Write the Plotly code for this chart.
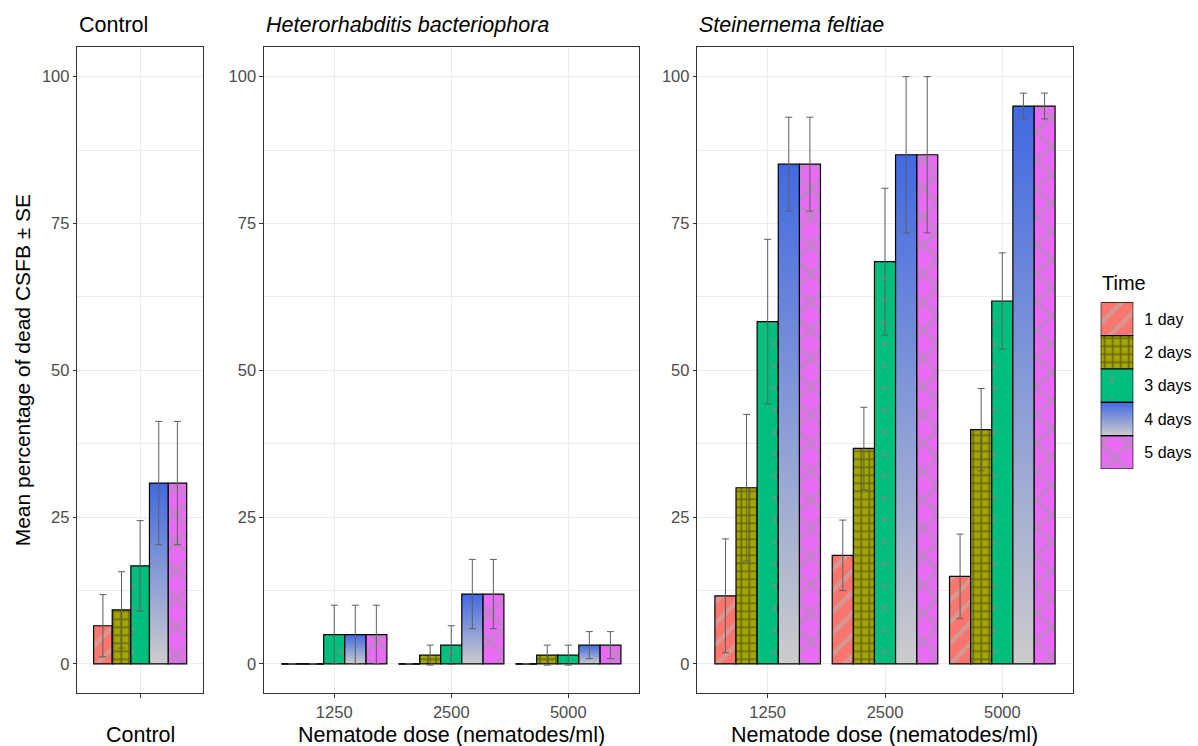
import plotly.graph_objects as go

W, H = 1198, 746

# ---------------- data ----------------
times = ["1 day", "2 days", "3 days", "4 days", "5 days"]
fill_colors = ["#F8766D", "#A3A500", "#00BF7D", "#4169E1", "#E76BF3"]
doses = ["1250", "2500", "5000"]
control_cats = [""]

control_mean = [[6.5], [9.2], [16.7], [30.8], [30.8]]
control_se = [[5.3], [6.5], [7.7], [10.5], [10.5]]

hb_mean = [[0, 0, 0], [0, 1.5, 1.5], [5.0, 3.2, 1.5], [5.0, 11.9, 3.2], [5.0, 11.9, 3.2]]
hb_se = [[0, 0, 0], [0, 1.7, 1.7], [5.0, 3.3, 1.7], [5.0, 5.9, 2.3], [5.0, 5.9, 2.3]]

sf_mean = [[11.6, 18.5, 14.9], [30.0, 36.7, 39.9], [58.3, 68.5, 61.8], [85.1, 86.7, 95.0], [85.1, 86.7, 95.0]]
sf_se = [[9.7, 6.0, 7.2], [12.5, 7.0, 7.0], [14.0, 12.5, 8.2], [8.0, 13.3, 2.2], [8.0, 13.3, 2.2]]

panel_titles = ["Control", "<i>Heterorhabditis bacteriophora</i>", "<i>Steinernema feltiae</i>"]
x_titles = ["Control", "Nematode dose (nematodes/ml)", "Nematode dose (nematodes/ml)"]
y_title = "Mean percentage of dead CSFB ± SE"
y_ticks = [0, 25, 50, 75, 100]

# ---------------- style ----------------
FONT = "Liberation Sans, Arial, sans-serif"
patterns = [
    dict(shape="/", fgcolor="#b8b8b8", size=15, solidity=0.3, fillmode="overlay"),
    dict(shape="+", fgcolor="#262626", size=8, solidity=0.35, fillmode="overlay"),
    dict(shape=".", fgcolor="#8a8a8a", size=22, solidity=0.05, fillmode="overlay"),
    None,
    dict(shape="x", fgcolor="#9c9c9c", size=20, solidity=0.3, fillmode="overlay"),
]
grad_scale = [[0, "#CCCCCC"], [1, "#4169E1"]]
ERR_COLOR = "#5e5e5e"


def px_x(p):
    return p / W


def px_y(p):
    return (H - p) / H


ydom = [px_y(693.3), px_y(47.3)]
panels = [
    dict(ax="", cats=control_cats, mean=control_mean, se=control_se, w=0.16,
         rng=[0.46, 1.54], dom=[px_x(77.3), px_x(203.0)]),
    dict(ax="2", cats=doses, mean=hb_mean, se=hb_se, w=0.18,
         rng=[0.4, 3.6], dom=[px_x(264.0), px_x(638.5)]),
    dict(ax="3", cats=doses, mean=sf_mean, se=sf_se, w=0.18,
         rng=[0.4, 3.6], dom=[px_x(697.3), px_x(1072.7)]),
]

fig = go.Figure()

for p in panels:
    xa, ya = "x" + p["ax"], "y" + p["ax"]
    pos = list(range(1, len(p["cats"]) + 1))
    w = p["w"]
    n = len(times)
    zero_x, zero_y = [], []
    for i in range(n):
        off = -w * n / 2 + i * w
        vals = p["mean"][i]
        if patterns[i] is not None:
            fig.add_trace(go.Bar(
                x=pos, y=vals, width=w, offset=off, xaxis=xa, yaxis=ya,
                marker=dict(color=fill_colors[i], pattern=patterns[i],
                            line=dict(color="black", width=1.2)),
                showlegend=False, hoverinfo="skip"))
        else:
            for j, v in enumerate(vals):
                x0 = pos[j] + off
                x1 = x0 + w
                fig.add_trace(go.Scatter(
                    x=[x0, x1, x1, x0, x0], y=[0, 0, v, v, 0], xaxis=xa, yaxis=ya,
                    mode="lines", fill="toself",
                    fillgradient=dict(type="vertical", colorscale=grad_scale),
                    line=dict(color="black", width=1.2),
                    showlegend=False, hoverinfo="skip"))
        for j, v in enumerate(vals):
            if v == 0:
                x0 = pos[j] + off
                zero_x += [x0, x0 + w, None]
                zero_y += [0, 0, None]
    if zero_x:
        fig.add_trace(go.Scatter(x=zero_x, y=zero_y, xaxis=xa, yaxis=ya, mode="lines",
                                 line=dict(color="black", width=1.4),
                                 showlegend=False, hoverinfo="skip"))
    for i in range(n):
        off = -w * n / 2 + i * w
        fig.add_trace(go.Scatter(
            x=[q + off + w / 2 for q in pos], y=p["mean"][i], xaxis=xa, yaxis=ya,
            mode="markers", marker=dict(size=1, color="rgba(0,0,0,0)"),
            error_y=dict(type="data", array=p["se"][i], color=ERR_COLOR,
                         thickness=1, width=3.5),
            showlegend=False, hoverinfo="skip"))

    axis_common = dict(showline=True, mirror=True, linecolor="#333333", linewidth=1.1,
                       ticks="outside", ticklen=3.5, tickcolor="#333333", tickwidth=1.1,
                       tickfont=dict(size=16.5, color="#4D4D4D", family=FONT),
                       showgrid=True, gridcolor="#EBEBEB", gridwidth=1.1, zeroline=False)
    fig.update_layout(**{
        "xaxis" + p["ax"]: dict(domain=p["dom"], range=p["rng"], anchor=ya,
                                tickvals=pos, ticktext=p["cats"], **axis_common),
        "yaxis" + p["ax"]: dict(domain=ydom, range=[-5, 105], anchor=xa,
                                tickvals=y_ticks,
                                minor=dict(tickvals=[12.5, 37.5, 62.5, 87.5], showgrid=True,
                                           gridcolor="#EBEBEB", gridwidth=0.6, ticks=""),
                                **axis_common),
    })

# ---------------- legend panel (keys drawn as bars) ----------------
leg_pos = [len(times) - 1 - i for i in range(len(times))]
for i, t in enumerate(times):
    if patterns[i] is not None:
        fig.add_trace(go.Bar(
            x=[1], y=[leg_pos[i]], orientation="h", width=1, xaxis="x4", yaxis="y4",
            marker=dict(color=fill_colors[i], pattern=patterns[i],
                        line=dict(color="black", width=1.2)),
            showlegend=False, hoverinfo="skip"))
    else:
        c = leg_pos[i]
        fig.add_trace(go.Scatter(
            x=[0, 1, 1, 0, 0], y=[c - 0.5, c - 0.5, c + 0.5, c + 0.5, c - 0.5],
            xaxis="x4", yaxis="y4", mode="lines", fill="toself",
            fillgradient=dict(type="vertical", colorscale=grad_scale),
            line=dict(color="black", width=1.2), showlegend=False, hoverinfo="skip"))

fig.update_layout(
    xaxis4=dict(domain=[px_x(1100.7), px_x(1133.3)], range=[0, 1], anchor="y4",
                visible=False, fixedrange=True),
    yaxis4=dict(domain=[px_y(469.0), px_y(302.3)], range=[-0.5, len(times) - 0.5],
                anchor="x4", side="right", tickvals=leg_pos, ticktext=times,
                ticks="", showgrid=False, zeroline=False, showline=False,
                ticklabelstandoff=10,
                tickfont=dict(size=16, color="black", family=FONT)),
)

# ---------------- annotations ----------------
ann = []
for p, t in zip(panels, panel_titles):
    ann.append(dict(text=t, x=p["dom"][0], y=px_y(25), xref="paper", yref="paper",
                    xanchor="left", yanchor="middle", showarrow=False,
                    font=dict(size=21.5, color="black", family=FONT)))
for p, t in zip(panels, x_titles):
    ann.append(dict(text=t, x=(p["dom"][0] + p["dom"][1]) / 2, y=px_y(734.5), xref="paper",
                    yref="paper", xanchor="center", yanchor="middle", showarrow=False,
                    font=dict(size=21.5, color="black", family=FONT)))
ann.append(dict(text=y_title, x=px_x(22), y=(ydom[0] + ydom[1]) / 2, xref="paper",
                yref="paper", xanchor="center", yanchor="middle", textangle=-90,
                showarrow=False, font=dict(size=21, color="black", family=FONT)))
ann.append(dict(text="Time", x=px_x(1100), y=px_y(283), xref="paper", yref="paper",
                xanchor="left", yanchor="middle", showarrow=False,
                font=dict(size=20, color="black", family=FONT)))

fig.update_layout(
    width=W, height=H, margin=dict(l=0, r=0, t=0, b=0),
    paper_bgcolor="white", plot_bgcolor="white", barmode="overlay",
    showlegend=False, annotations=ann, font=dict(family=FONT),
)

fig.write_html("out.html", config={"displayModeBar": False},
               post_script="document.body.style.margin='0';document.body.style.overflow='hidden';")
